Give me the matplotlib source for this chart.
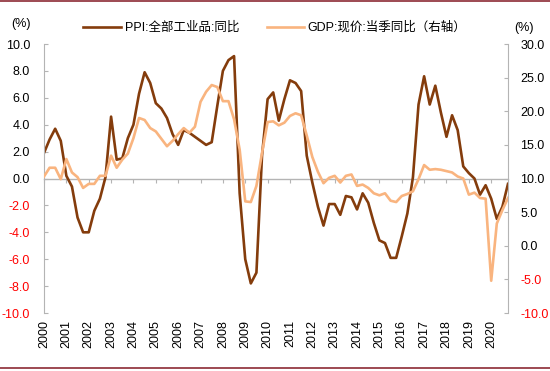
import numpy as np
import matplotlib
matplotlib.use("Agg")
import matplotlib.pyplot as plt
from matplotlib.lines import Line2D

plt.rcParams['font.family'] = ['Liberation Sans', 'Noto Sans CJK SC', 'DejaVu Sans']

# quarterly values, 2000Q1 .. 2020Q4
ppi = [1.9, 2.9, 3.7, 2.8,
       0.2, -0.6, -2.9, -4.0,
       -4.0, -2.4, -1.5, 0.1,
       4.6, 1.4, 1.5, 3.0,
       4.0, 6.3, 7.9, 7.1,
       5.6, 5.2, 4.5, 3.3,
       2.5, 3.6, 3.4, 3.1,
       2.8, 2.5, 2.7, 5.4,
       8.0, 8.8, 9.1, -1.1,
       -6.0, -7.8, -7.0, 1.7,
       5.9, 6.4, 4.3, 5.9,
       7.3, 7.1, 6.5, 1.7,
       -0.3, -2.1, -3.5, -1.9,
       -1.9, -2.7, -1.3, -1.4,
       -2.3, -1.1, -1.8, -3.3,
       -4.6, -4.8, -5.9, -5.9,
       -4.3, -2.6, 0.1, 5.5,
       7.6, 5.5, 6.9, 4.9,
       3.1, 4.7, 3.6, 0.9,
       0.4, 0.0, -1.2, -0.5,
       -1.5, -3.0, -2.1, -0.4]

gdp = [10.3, 11.6, 11.6, 9.9,
       12.9, 10.9, 10.2, 8.6,
       9.2, 9.2, 10.4, 10.4,
       13.4, 11.6, 12.8, 13.7,
       16.0, 19.0, 18.7, 17.5,
       17.0, 15.9, 14.8, 15.6,
       16.6, 17.5, 16.8, 17.7,
       21.4, 22.9, 23.9, 23.6,
       21.5, 21.5, 18.8, 14.3,
       6.6, 6.5, 8.9, 13.8,
       18.4, 18.5, 17.9, 18.3,
       19.3, 19.7, 19.4, 16.4,
       13.2, 11.0, 9.3, 10.1,
       10.4, 9.4, 10.4, 10.6,
       8.9, 9.1, 8.6, 7.8,
       7.5, 7.8, 6.7, 6.5,
       7.4, 7.7, 8.1, 9.9,
       12.0, 11.3, 11.4, 11.3,
       11.1, 10.9, 10.3, 10.0,
       7.6, 7.9, 7.1, 7.0,
       -5.2, 3.3, 5.3, 7.1]

years = list(range(2000, 2021))
left_ticks = [10, 8, 6, 4, 2, 0, -2, -4, -6, -8, -10]
right_ticks = [30, 25, 20, 15, 10, 5, 0, -5, -10]

ppi_label = "PPI:全部工业品:同比"
gdp_label = "GDP:现价:当季同比（右轴）"

x = 2000 + np.arange(len(ppi)) / 4.0

c_ppi = '#843C0C'
c_gdp = '#F9B47F'
grey = '#B4B4B4'

fig = plt.figure(figsize=(5.5, 3.71), dpi=100)
ax = fig.add_axes([0.08, 0.1563, 0.8436, 0.7251])
ax2 = ax.twinx()

ax.plot(x, ppi, color=c_ppi, lw=1.9)
ax2.plot(x, gdp, color=c_gdp, lw=1.9)

ax.set_xlim(2000, 2020.75)
ax.set_ylim(-10, 10)
ax2.set_ylim(-10, 30)

for a in (ax, ax2):
    a.spines['top'].set_visible(False)
    a.spines['bottom'].set_visible(False)
    a.spines['left'].set_color(grey)
    a.spines['right'].set_color(grey)
ax.spines['right'].set_visible(False)
ax2.spines['left'].set_visible(False)

ax.set_yticks(left_ticks)
ax.set_yticklabels(['%.1f' % v for v in left_ticks])
ax.tick_params(axis='y', direction='in', length=3, color=grey, labelsize=9, pad=10)
for lab, v in zip(ax.get_yticklabels(), left_ticks):
    lab.set_color('red' if v < 0 else 'black')

ax2.set_yticks(right_ticks)
ax2.set_yticklabels(['%.1f' % v for v in right_ticks])
ax2.tick_params(axis='y', direction='in', length=3, color=grey, labelsize=9, pad=9)
for lab, v in zip(ax2.get_yticklabels(), right_ticks):
    lab.set_color('red' if v < 0 else 'black')

# year labels at the bottom
ax.set_xticks(years)
ax.set_xticklabels([str(y) for y in years], rotation=90, fontsize=9)
ax.tick_params(axis='x', length=0, pad=5)

# zero line with yearly ticks, no labels
zero = ax.secondary_xaxis(0.5)
for s in zero.spines.values():
    s.set_color(grey)
    s.set_linewidth(1.0)
zero.set_xticks(years)
zero.set_xticklabels([])
zero.tick_params(axis='x', direction='in', length=3, color=grey)

handles = [Line2D([], [], color=c_ppi, lw=1.9), Line2D([], [], color=c_gdp, lw=1.9)]
fig.legend(handles, [ppi_label, gdp_label], loc='center', bbox_to_anchor=(0.5, 0.925),
           ncol=2, frameon=False, fontsize=9, handlelength=3.0, handletextpad=0.3,
           columnspacing=2.2)

fig.text(0.038, 0.935, "(%)", fontsize=9, ha='center', va='center')
fig.text(0.952, 0.925, "(%)", fontsize=9, ha='center', va='center')

# thin frame lines at top and bottom of the page
fig.add_artist(Line2D([0, 1], [0.997, 0.997], color='#8C2A35', lw=1.2))
fig.add_artist(Line2D([0, 1], [0.008, 0.008], color='#8C2A35', lw=1.2))

fig.savefig('out.png', dpi=100)
